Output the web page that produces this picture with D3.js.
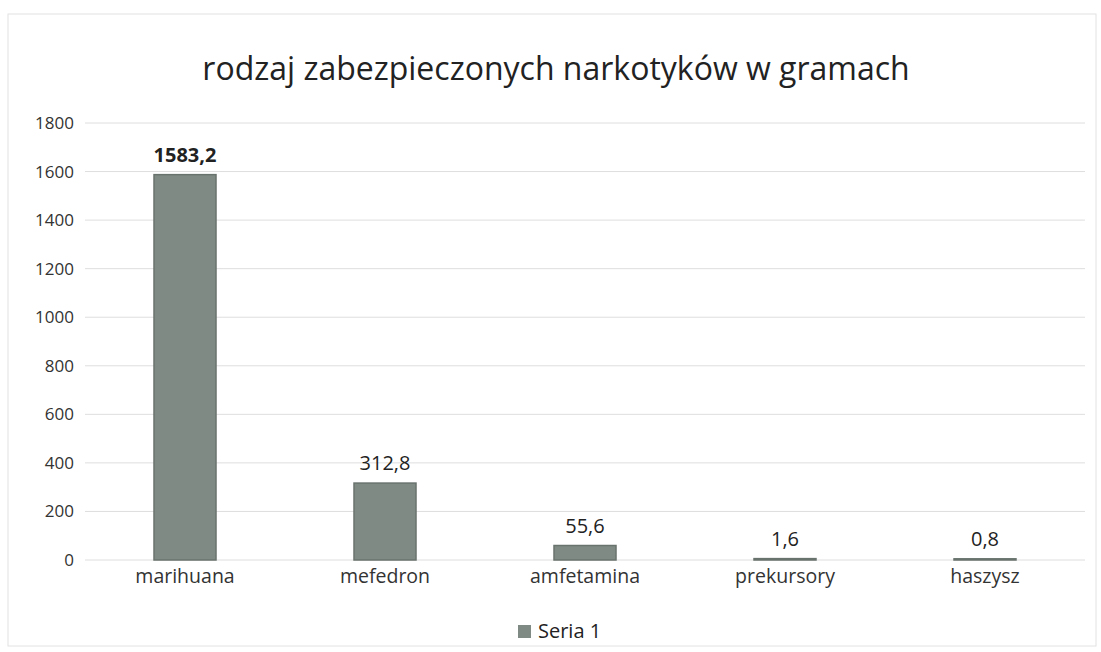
<!DOCTYPE html>
<html><head><meta charset="utf-8">
<script src="https://cdn.jsdelivr.net/npm/d3@7"></script>
<style>body{margin:0;background:#fff;} svg{display:block;}</style>
</head><body>
<svg id="c" width="1101" height="652"></svg>
<script>
const categories = ["marihuana","mefedron","amfetamina","prekursory","haszysz"];
const values = [1583.2, 312.8, 55.6, 1.6, 0.8];
const valueLabels = ["1583,2","312,8","55,6","1,6","0,8"];
const yTicks = [0,200,400,600,800,1000,1200,1400,1600,1800];
const seriesName = "Seria 1";
const title = "rodzaj zabezpieczonych narkotyków w gramach";

const font = "'Open Sans', 'Noto Sans', sans-serif";
const svg = d3.select("#c");
const m = {left: 85, right: 1085, top: 123, bottom: 560};

svg.append("rect").attr("x",8).attr("y",14).attr("width",1088).attr("height",632)
  .attr("fill","#fff").attr("stroke","#e2e2e2").attr("stroke-width",1);

const x = d3.scaleBand().domain(categories).range([m.left, m.right]).paddingInner(0.69).paddingOuter(0.345);
const y = d3.scaleLinear().domain([0,1800]).range([m.bottom, m.top]);

// grid
svg.append("g").selectAll("line").data(yTicks).join("line")
  .attr("x1", m.left).attr("x2", m.right)
  .attr("y1", d=>y(d)).attr("y2", d=>y(d))
  .attr("stroke","#dedede").attr("stroke-width",1);

// y axis labels
const yAxis = d3.axisLeft(y).tickValues(yTicks).tickSize(0).tickPadding(9).tickFormat(d=>d);
const ga = svg.append("g").attr("transform",`translate(${m.left-2},0)`).call(yAxis);
ga.select(".domain").remove();
ga.selectAll("text").attr("font-family",font).attr("font-size",17).attr("fill","#333");

// bars
svg.append("g").selectAll("rect").data(values).join("rect")
  .attr("x",(d,i)=>x(categories[i]))
  .attr("width",x.bandwidth())
  .attr("y",d=>y(d)-1)
  .attr("height",d=>m.bottom - y(d)+1)
  .attr("fill","#808a85").attr("stroke","#69736e").attr("stroke-width",1.5);

// value labels
svg.append("g").selectAll("text").data(values).join("text")
  .attr("x",(d,i)=>x(categories[i])+x.bandwidth()/2)
  .attr("y",d=>y(d)-14)
  .attr("text-anchor","middle")
  .attr("font-family",font).attr("font-size",20)
  .attr("font-weight",(d,i)=>i===0?"bold":"normal")
  .attr("fill","#222")
  .text((d,i)=>valueLabels[i]);

// x axis labels
const xAxis = d3.axisBottom(x).tickSize(0).tickPadding(9);
const gx = svg.append("g").attr("transform",`translate(0,${m.bottom})`).call(xAxis);
gx.select(".domain").remove();
gx.selectAll("text").attr("font-family",font).attr("font-size",19.5).attr("fill","#333");

// title
svg.append("text").attr("x",556).attr("y",80).attr("text-anchor","middle")
  .attr("font-family",font).attr("font-size",32).attr("fill","#222").text(title);

// legend
const lg = svg.append("g").attr("transform","translate(518,638)");
lg.append("rect").attr("x",0).attr("y",-13).attr("width",13).attr("height",13).attr("fill","#808a85");
lg.append("text").attr("x",20).attr("y",0).attr("font-family",font).attr("font-size",20).attr("fill","#222").text(seriesName);
</script>
</body></html>
